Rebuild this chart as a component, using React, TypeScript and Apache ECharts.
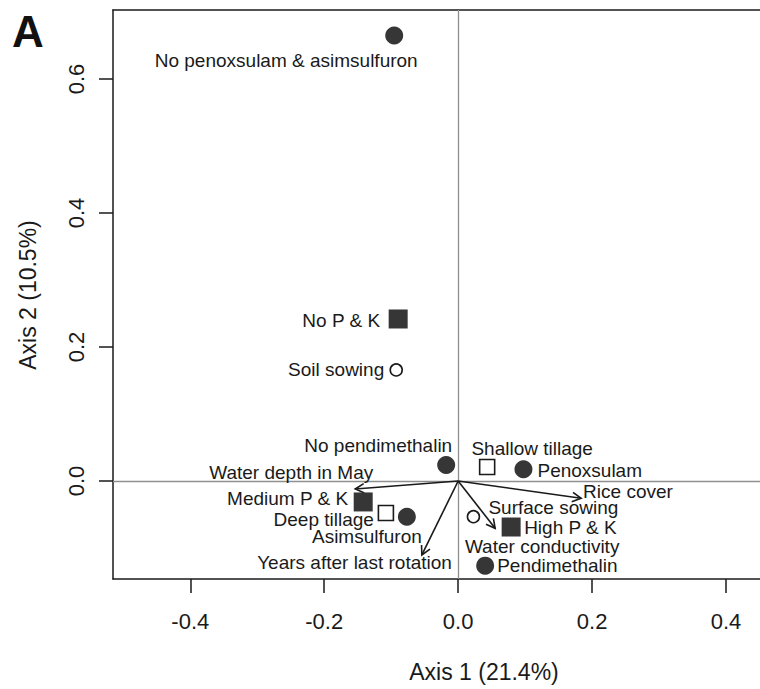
import React, { useEffect, useRef } from "react";
import * as echarts from "echarts";

// ---- data ----
const pointNames = [
  "No penoxsulam & asimsulfuron",
  "No P & K",
  "Soil sowing",
  "No pendimethalin",
  "Shallow tillage",
  "Penoxsulam",
  "Medium P & K",
  "Deep tillage",
  "Asimsulfuron",
  "Surface sowing",
  "High P & K",
  "Pendimethalin",
];
const pointX = [-0.0955, -0.0896, -0.0925, -0.0179, 0.0433, 0.0975, -0.1418, -0.1079, -0.0766, 0.0228, 0.0791, 0.0403];
const pointY = [0.665, 0.2418, 0.1657, 0.0239, 0.0209, 0.0174, -0.0313, -0.0478, -0.0533, -0.0533, -0.0687, -0.1264];
const pointKind = [
  "filledCircle",
  "filledSquare",
  "openCircle",
  "filledCircle",
  "openSquare",
  "filledCircle",
  "filledSquare",
  "openSquare",
  "filledCircle",
  "openCircle",
  "filledSquare",
  "filledCircle",
];

const arrowNames = ["Water depth in May", "Rice cover", "Water conductivity", "Years after last rotation"];
const arrowX = [-0.1537, 0.1836, 0.0552, -0.0542];
const arrowY = [-0.0119, -0.0258, -0.0706, -0.1104];

const xTicks = [-0.4, -0.2, 0.0, 0.2, 0.4];
const yTicks = [0.0, 0.2, 0.4, 0.6];
const xTitle = "Axis 1 (21.4%)";
const yTitle = "Axis 2 (10.5%)";
const panelLetter = "A";

// ---- styles (label placement relative to the mark, in pixels) ----
type Place = { align: "left" | "right" | "center"; dx: number; dy: number };
const labelPlace: Record<string, Place> = {
  "No penoxsulam & asimsulfuron": { align: "center", dx: -108, dy: 25 },
  "No P & K": { align: "right", dx: -18, dy: 2 },
  "Soil sowing": { align: "right", dx: -12, dy: 0 },
  "No pendimethalin": { align: "right", dx: 6, dy: -19 },
  "Shallow tillage": { align: "center", dx: 45, dy: -18 },
  Penoxsulam: { align: "left", dx: 14, dy: 1 },
  "Medium P & K": { align: "right", dx: -15, dy: -3 },
  "Deep tillage": { align: "right", dx: -12, dy: 6 },
  Asimsulfuron: { align: "center", dx: -40, dy: 20 },
  "Surface sowing": { align: "left", dx: 15, dy: -9 },
  "High P & K": { align: "left", dx: 13, dy: 0 },
  Pendimethalin: { align: "left", dx: 12, dy: 0 },
  "Water depth in May": { align: "right", dx: 18, dy: -16 },
  "Rice cover": { align: "left", dx: 2, dy: -7 },
  "Water conductivity": { align: "center", dx: 47, dy: 18 },
  "Years after last rotation": { align: "right", dx: 30, dy: 8 },
};

const FONT = "'Liberation Sans', Arial, Helvetica, sans-serif";
const INK = "#1a1a1a";
const DARK = "#363636";

const kindStyle: Record<string, { symbol: string; size: number; fill: string; border: string; bw: number }> = {
  filledCircle: { symbol: "circle", size: 18, fill: DARK, border: DARK, bw: 0 },
  filledSquare: { symbol: "rect", size: 19, fill: DARK, border: DARK, bw: 0 },
  openSquare: { symbol: "rect", size: 15, fill: "#ffffff", border: INK, bw: 1.6 },
  openCircle: { symbol: "circle", size: 12, fill: "#ffffff", border: INK, bw: 1.6 },
};

const X_MIN = -0.5154;
const X_MAX = 0.4507;
const Y_MIN = -0.1463;
const Y_MAX = 0.703;

export default function App() {
  const ref = useRef<HTMLDivElement | null>(null);

  useEffect(() => {
    if (!ref.current) return;
    const chart = echarts.init(ref.current, undefined, { renderer: "svg" });

    const kinds = ["filledCircle", "filledSquare", "openSquare", "openCircle"];
    const scatterSeries = kinds.map((k) => {
      const st = kindStyle[k];
      return {
        type: "scatter",
        name: k,
        symbol: st.symbol,
        symbolSize: st.size,
        itemStyle: { color: st.fill, borderColor: st.border, borderWidth: st.bw, opacity: 1 },
        z: 5,
        data: pointNames
          .map((n, i) => ({ name: n, value: [pointX[i], pointY[i]], kind: pointKind[i] }))
          .filter((d) => d.kind === k)
          .map((d) => ({ name: d.name, value: d.value })),
      };
    });

    const labelData = [
      ...pointNames.map((n, i) => [pointX[i], pointY[i], n]),
      ...arrowNames.map((n, i) => [arrowX[i], arrowY[i], n]),
    ];

    const option: any = {
      animation: false,
      backgroundColor: "#ffffff",
      grid: { left: 113, top: 10, right: 0, bottom: 110, containLabel: false },
      xAxis: [
        {
          type: "value",
          position: "bottom",
          min: X_MIN,
          max: X_MAX,
          axisLine: { show: true, onZero: false, lineStyle: { color: INK, width: 1.5 } },
          axisTick: { show: true, length: 14, customValues: xTicks, lineStyle: { color: INK, width: 1.5 } },
          axisLabel: {
            show: true,
            customValues: xTicks,
            formatter: (v: number) => v.toFixed(1),
            fontSize: 22,
            fontFamily: FONT,
            color: INK,
            margin: 31,
          },
          splitLine: { show: false },
        },
        {
          type: "value",
          position: "top",
          min: X_MIN,
          max: X_MAX,
          axisLine: { show: true, onZero: false, lineStyle: { color: INK, width: 1.5 } },
          axisTick: { show: false },
          axisLabel: { show: false },
          splitLine: { show: false },
        },
      ],
      yAxis: {
        type: "value",
        min: Y_MIN,
        max: Y_MAX,
        axisLine: { show: true, onZero: false, lineStyle: { color: INK, width: 1.5 } },
        axisTick: { show: true, length: 14, customValues: yTicks, lineStyle: { color: INK, width: 1.5 } },
        axisLabel: {
          show: true,
          customValues: yTicks,
          rotate: 90,
          formatter: (v: number) => v.toFixed(1),
          fontSize: 22,
          fontFamily: FONT,
          color: INK,
          margin: 26,
        },
        splitLine: { show: false },
      },
      graphic: [
        {
          type: "text",
          x: 28,
          y: 31,
          style: { text: panelLetter, font: `bold 44px ${FONT}`, fill: "#111", align: "center", verticalAlign: "middle" },
        },
        {
          type: "text",
          x: 484,
          y: 672,
          style: { text: xTitle, font: `23px ${FONT}`, fill: INK, align: "center", verticalAlign: "middle" },
        },
        {
          type: "text",
          x: 28,
          y: 295,
          rotation: Math.PI / 2,
          style: { text: yTitle, font: `23px ${FONT}`, fill: INK, align: "center", verticalAlign: "middle" },
        },
      ],
      series: [
        {
          type: "custom",
          name: "arrows",
          coordinateSystem: "cartesian2d",
          z: 3,
          silent: true,
          data: arrowNames.map((n, i) => [arrowX[i], arrowY[i]]),
          renderItem: (params: any, api: any) => {
            const o = api.coord([0, 0]);
            const t = api.coord([api.value(0), api.value(1)]);
            const th = Math.atan2(t[1] - o[1], t[0] - o[0]);
            const L = 10;
            const phi = (28 * Math.PI) / 180;
            const a1 = [t[0] - L * Math.cos(th - phi), t[1] - L * Math.sin(th - phi)];
            const a2 = [t[0] - L * Math.cos(th + phi), t[1] - L * Math.sin(th + phi)];
            return {
              type: "group",
              children: [
                {
                  type: "line",
                  shape: { x1: o[0], y1: o[1], x2: t[0], y2: t[1] },
                  style: { stroke: INK, lineWidth: 1.6 },
                },
                {
                  type: "polyline",
                  shape: { points: [a1, t, a2] },
                  style: { stroke: INK, lineWidth: 1.6, fill: "none" },
                },
              ],
            };
          },
          markLine: {
            silent: true,
            symbol: "none",
            label: { show: false },
            lineStyle: { color: "#8f8f8f", width: 1.3, type: "solid" },
            data: [{ xAxis: 0 }, { yAxis: 0 }],
            z: 1,
          },
        },
        ...scatterSeries,
        {
          type: "custom",
          name: "labels",
          coordinateSystem: "cartesian2d",
          z: 6,
          silent: true,
          data: labelData,
          dimensions: ["x", "y", "label"],
          renderItem: (params: any, api: any) => {
            const name = labelData[params.dataIndex][2] as string;
            const p = api.coord([api.value(0), api.value(1)]);
            const pl = labelPlace[name] || { align: "left", dx: 0, dy: 0 };
            return {
              type: "text",
              x: p[0] + pl.dx,
              y: p[1] + pl.dy,
              style: {
                text: name,
                font: `19px ${FONT}`,
                fill: INK,
                align: pl.align,
                verticalAlign: "middle",
              },
            };
          },
        },
      ],
    };

    chart.setOption(option);
    return () => chart.dispose();
  }, []);

  return (
    <div
      ref={ref}
      style={{ position: "fixed", left: 0, top: 0, width: 760, height: 689, background: "#fff" }}
    />
  );
}
